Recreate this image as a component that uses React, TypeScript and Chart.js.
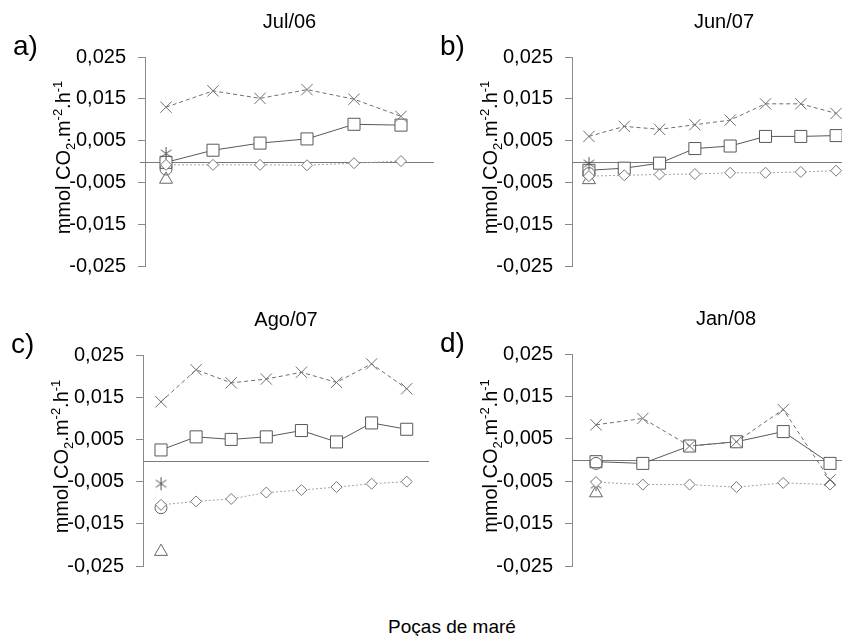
import React, { useEffect, useRef } from 'react';
import { Chart, registerables } from 'chart.js';
Chart.register(...registerables);

const FONT = '"Liberation Sans", Arial, Helvetica, sans-serif';
const AXIS = '#8a8a8a';
const ZERO = '#7a7a7a';
const TEXT = '#000000';

// y tick values (shared by all panels)
const yTickValues = [-0.025, -0.015, -0.005, 0.005, 0.015, 0.025];

const panelLetters = ['a)', 'b)', 'c)', 'd)'];
const panelTitles = ['Jul/06', 'Jun/07', 'Ago/07', 'Jan/08'];
const xAxisTitle = 'Poças de maré';

// a) Jul/06 — 6 pools
const julCross = [0.0130, 0.0169, 0.0151, 0.0172, 0.0149, 0.0108];
const julSquare = [-0.0002, 0.0027, 0.0044, 0.0054, 0.0089, 0.0087];
const julDiamond = [-0.0008, -0.0008, -0.0008, -0.0009, -0.0004, 0.0001];
const julAsterisk = [0.0019];
const julCircle = [-0.0018];
const julTriangle = [-0.0043];

// b) Jun/07 — 8 pools
const junCross = [0.0060, 0.0084, 0.0077, 0.0088, 0.0099, 0.0138, 0.0138, 0.0115];
const junSquare = [-0.0021, -0.0016, -0.0004, 0.0031, 0.0037, 0.0060, 0.0060, 0.0062];
const junDiamond = [-0.0035, -0.0033, -0.0031, -0.0030, -0.0027, -0.0027, -0.0025, -0.0022];
const junAsterisk = [-0.0005];
const junCircle = [-0.0029];
const junTriangle = [-0.0044];

// c) Ago/07 — 8 pools
const agoCross = [0.0139, 0.0215, 0.0184, 0.0193, 0.0209, 0.0185, 0.0229, 0.0170];
const agoSquare = [0.0025, 0.0056, 0.0050, 0.0056, 0.0071, 0.0044, 0.0089, 0.0074];
const agoDiamond = [-0.0105, -0.0097, -0.0091, -0.0076, -0.0070, -0.0063, -0.0055, -0.0050];
const agoAsterisk = [-0.0055];
const agoCircle = [-0.0112];
const agoTriangle = [-0.0216];

// d) Jan/08 — 6 pools
const janCross = [0.0083, 0.0098, 0.0033, 0.0043, 0.0119, -0.0047];
const janSquare = [-0.0004, -0.0008, 0.0033, 0.0043, 0.0067, -0.0008];
const janDiamond = [-0.0052, -0.0058, -0.0058, -0.0064, -0.0054, -0.0058];
const janAsterisk = [-0.0058];
const janCircle = [-0.0008];
const janTriangle = [-0.0078];

const panelSeries = [
  { cross: julCross, square: julSquare, diamond: julDiamond, asterisk: julAsterisk, circle: julCircle, triangle: julTriangle },
  { cross: junCross, square: junSquare, diamond: junDiamond, asterisk: junAsterisk, circle: junCircle, triangle: junTriangle },
  { cross: agoCross, square: agoSquare, diamond: agoDiamond, asterisk: agoAsterisk, circle: agoCircle, triangle: agoTriangle },
  { cross: janCross, square: janSquare, diamond: janDiamond, asterisk: janAsterisk, circle: janCircle, triangle: janTriangle },
];

// layout of each panel (canvas box and chart-area geometry)
const panelLayout = [
  { left: 0, top: 0, width: 440, height: 290, padTop: 57, padBottom: 18, axisLeft: 145, areaRight: 434, xMin: -0.447, xMax: 5.702, zeroExt: 5 },
  { left: 421, top: 0, width: 460, height: 290, padTop: 57, padBottom: 18, axisLeft: 151, areaRight: 455, xMin: -0.48, xMax: 8.13, zeroExt: 0 },
  { left: 0, top: 290, width: 440, height: 300, padTop: 65, padBottom: 20, axisLeft: 143, areaRight: 429, xMin: -0.513, xMax: 7.635, zeroExt: 0 },
  { left: 421, top: 290, width: 470, height: 300, padTop: 64, padBottom: 21, axisLeft: 151, areaRight: 459, xMin: -0.513, xMax: 6.068, zeroExt: 0 },
];

function makeAsterisk(color: string) {
  const c = document.createElement('canvas');
  c.width = 15;
  c.height = 15;
  const g = c.getContext('2d')!;
  g.strokeStyle = color;
  g.lineWidth = 1;
  const cx = 7.5, cy = 7.5, r = 6.5;
  [90, 35, -35].forEach((deg) => {
    const a = (deg * Math.PI) / 180;
    const dx = Math.cos(a) * r, dy = Math.sin(a) * r;
    g.beginPath();
    g.moveTo(cx - dx, cy + dy);
    g.lineTo(cx + dx, cy - dy);
    g.stroke();
  });
  return c;
}

const fmt = (v: number) => Number(v).toFixed(3).replace('.', ',');

function Panel({ idx }: { idx: number }) {
  const ref = useRef<HTMLCanvasElement>(null);
  const L = panelLayout[idx];
  useEffect(() => {
    const s = panelSeries[idx];
    const pts = (arr: number[]) => arr.map((v, i) => ({ x: i, y: v }));
    const asterisk = makeAsterisk('#505050');

    const zeroLine = {
      id: 'zeroLine',
      beforeDatasetsDraw(chart: any) {
        const { ctx, chartArea } = chart;
        const y = Math.round(chart.scales.y.getPixelForValue(0)) + 0.5;
        ctx.save();
        ctx.strokeStyle = ZERO;
        ctx.lineWidth = 1;
        ctx.beginPath();
        ctx.moveTo(chartArea.left - L.zeroExt, y);
        ctx.lineTo(chartArea.right, y);
        ctx.stroke();
        ctx.restore();
      },
    };

    const texts = {
      id: 'panelTexts',
      afterDraw(chart: any) {
        const { ctx, chartArea } = chart;
        ctx.save();
        ctx.fillStyle = TEXT;
        // panel title
        ctx.font = `20px ${FONT}`;
        ctx.textAlign = 'center';
        ctx.textBaseline = 'alphabetic';
        ctx.fillText(panelTitles[idx], (chartArea.left + chartArea.right) / 2, chartArea.top - 29);
        // panel letter
        ctx.font = `28px ${FONT}`;
        ctx.textAlign = 'left';
        ctx.fillText(panelLetters[idx], chartArea.left - 132, chartArea.top - 2);
        // y-axis title with sub/superscripts
        const segs = [
          { t: 'mmol CO', size: 20, dy: 0 },
          { t: '2', size: 13, dy: 5 },
          { t: '.m', size: 20, dy: 0 },
          { t: '-2', size: 13, dy: -8 },
          { t: '.h', size: 20, dy: 0 },
          { t: '-1', size: 13, dy: -8 },
        ];
        let total = 0;
        const widths = segs.map((sg) => {
          ctx.font = `${sg.size}px ${FONT}`;
          const w = ctx.measureText(sg.t).width;
          total += w;
          return w;
        });
        const cy = (chartArea.top + chartArea.bottom) / 2 - 4;
        ctx.translate(chartArea.left - 75, cy);
        ctx.rotate(-Math.PI / 2);
        let x = -total / 2;
        segs.forEach((sg, i) => {
          ctx.font = `${sg.size}px ${FONT}`;
          ctx.fillText(sg.t, x, sg.dy);
          x += widths[i];
        });
        ctx.restore();
      },
    };

    const chart = new Chart(ref.current!, {
      type: 'line',
      data: {
        datasets: [
          {
            data: pts(s.cross),
            borderColor: '#6e6e6e',
            borderWidth: 1,
            borderDash: [4, 3],
            pointStyle: 'crossRot',
            pointRadius: 8,
            pointBorderColor: '#6e6e6e',
            pointBorderWidth: 1,
            pointBackgroundColor: 'rgba(0,0,0,0)',
            fill: false,
            tension: 0,
            clip: false,
          },
          {
            data: pts(s.diamond),
            borderColor: '#a5a5a5',
            borderWidth: 1,
            borderDash: [2, 2],
            pointStyle: 'rectRot',
            pointRadius: 5.5,
            pointBorderColor: '#777777',
            pointBorderWidth: 1,
            pointBackgroundColor: '#ffffff',
            fill: false,
            tension: 0,
            clip: false,
          },
          {
            data: pts(s.circle),
            showLine: false,
            pointStyle: 'circle',
            pointRadius: 6,
            pointBorderColor: '#666666',
            pointBorderWidth: 1,
            pointBackgroundColor: 'rgba(255,255,255,0)',
            clip: false,
          },
          {
            data: pts(s.triangle),
            showLine: false,
            pointStyle: 'triangle',
            pointRadius: 7.5,
            pointBorderColor: '#666666',
            pointBorderWidth: 1,
            pointBackgroundColor: 'rgba(255,255,255,0)',
            clip: false,
          },
          {
            data: pts(s.asterisk),
            showLine: false,
            pointStyle: asterisk as any,
            pointRadius: 7,
            clip: false,
          },
          {
            data: pts(s.square),
            borderColor: '#585858',
            borderWidth: 1,
            pointStyle: 'rect',
            pointRadius: 8.5,
            pointBorderColor: '#585858',
            pointBorderWidth: 1,
            pointBackgroundColor: '#ffffff',
            fill: false,
            tension: 0,
            clip: false,
          },
        ] as any,
      },
      options: {
        animation: false,
        responsive: false,
        maintainAspectRatio: false,
        devicePixelRatio: 1,
        events: [],
        layout: {
          autoPadding: false,
          padding: { left: 0, top: L.padTop, bottom: L.padBottom, right: L.width - L.areaRight },
        },
        plugins: {
          legend: { display: false },
          tooltip: { enabled: false },
          title: { display: false },
        },
        scales: {
          x: { type: 'linear', min: L.xMin, max: L.xMax, display: false },
          y: {
            type: 'linear',
            min: -0.025,
            max: 0.025,
            afterBuildTicks: (scale: any) => {
              scale.ticks = yTickValues.map((v) => ({ value: v }));
            },
            afterFit: (scale: any) => {
              scale.width = L.axisLeft;
            },
            ticks: {
              callback: (v: any) => fmt(v),
              font: { family: FONT, size: 20 },
              color: TEXT,
              padding: 12,
              autoSkip: false,
            },
            grid: {
              drawOnChartArea: false,
              drawTicks: true,
              tickLength: 7,
              color: AXIS,
              lineWidth: 1,
            },
            border: { display: true, color: AXIS, width: 1 },
          },
        },
      } as any,
      plugins: [zeroLine, texts],
    });
    return () => chart.destroy();
  }, [idx]);
  return (
    <canvas
      ref={ref}
      width={L.width}
      height={L.height}
      style={{ position: 'absolute', left: L.left, top: L.top, width: L.width, height: L.height }}
    />
  );
}

export default function App() {
  return (
    <div
      style={{
        position: 'fixed',
        left: 0,
        top: 0,
        width: 842,
        height: 636,
        overflow: 'hidden',
        background: '#ffffff',
      }}
    >
      {[0, 1, 2, 3].map((i) => (
        <Panel key={i} idx={i} />
      ))}
      <div
        style={{
          position: 'absolute',
          left: 0,
          width: 904,
          top: 617,
          textAlign: 'center',
          fontFamily: FONT,
          fontSize: 19,
          lineHeight: '19px',
          color: TEXT,
          whiteSpace: 'nowrap',
        }}
      >
        {xAxisTitle}
      </div>
    </div>
  );
}
